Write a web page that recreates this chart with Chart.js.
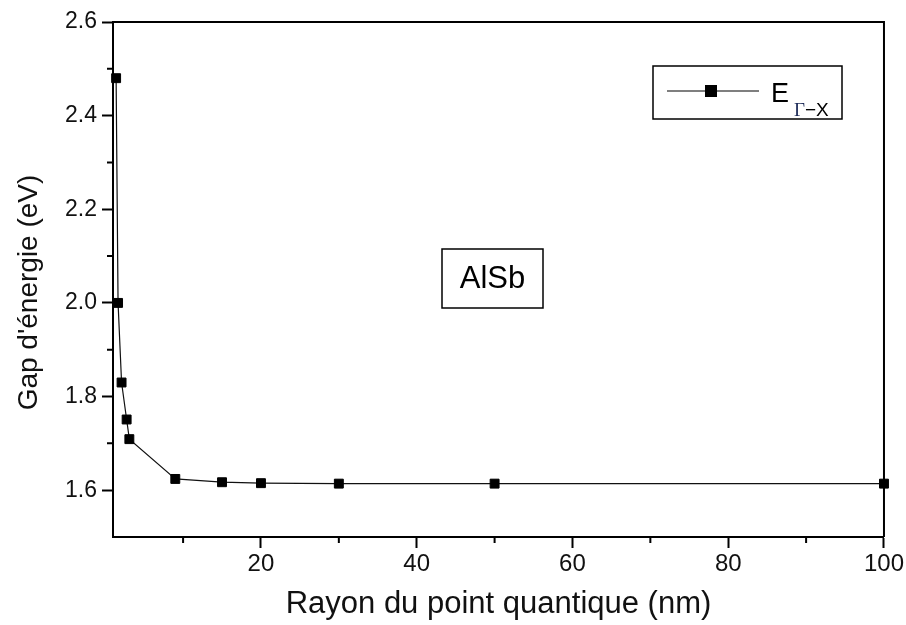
<!DOCTYPE html>
<html>
<head>
<meta charset="utf-8">
<title>AlSb - Gap d'énergie</title>
<script src="https://cdn.jsdelivr.net/npm/chart.js@4.4.1/dist/chart.umd.min.js"></script>
<style>
  html, body { margin: 0; padding: 0; background: #fff; }
  #wrap { width: 906px; height: 625px; position: relative; }
</style>
</head>
<body>
<div id="wrap"><canvas id="gapChart"></canvas></div>
<script>
// rayon du point quantique (nm) et gap Γ-X (eV)
const radius = [1.4, 1.65, 2.1, 2.75, 3.1, 9, 15, 20, 30, 50, 100];
const gap = [2.48, 2.00, 1.83, 1.751, 1.709, 1.624, 1.617, 1.615, 1.614, 1.614, 1.614];

const xTicks = [20, 40, 60, 80, 100];
const xMinor = [10, 30, 50, 70, 90];
const yTicks = [1.6, 1.8, 2.0, 2.2, 2.4, 2.6];
const yMinor = [1.7, 1.9, 2.1, 2.3, 2.5];

const sans = "'Liberation Sans', Arial, sans-serif";

// box frame, minor ticks, y title, legend and material label
const extras = {
  id: 'extras',
  afterDraw(chart) {
    const ctx = chart.ctx;
    const a = chart.chartArea;
    const sx = chart.scales.x, sy = chart.scales.y;
    ctx.save();
    ctx.strokeStyle = '#000';
    ctx.lineWidth = 2;
    ctx.beginPath();
    ctx.moveTo(a.left, a.top);
    ctx.lineTo(a.right, a.top);
    ctx.lineTo(a.right, a.bottom);
    ctx.stroke();

    ctx.beginPath();
    xMinor.forEach(v => {
      const px = sx.getPixelForValue(v);
      ctx.moveTo(px, a.bottom);
      ctx.lineTo(px, a.bottom + 6);
    });
    yMinor.forEach(v => {
      const py = sy.getPixelForValue(v);
      ctx.moveTo(a.left, py);
      ctx.lineTo(a.left - 6, py);
    });
    ctx.stroke();

    // y axis title
    ctx.save();
    ctx.translate(29, (a.top + a.bottom) / 2 + 13);
    ctx.rotate(-Math.PI / 2);
    ctx.fillStyle = '#111';
    ctx.font = '28px ' + sans;
    ctx.textAlign = 'center';
    ctx.textBaseline = 'middle';
    ctx.fillText("Gap d'énergie (eV)", 0, 0);
    ctx.restore();

    // legend
    const lx = a.left + 540, ly = a.top + 44;
    ctx.lineWidth = 1.5;
    ctx.strokeRect(lx, ly, 189, 53);
    ctx.lineWidth = 1.2;
    ctx.beginPath();
    ctx.moveTo(lx + 14, ly + 25);
    ctx.lineTo(lx + 106, ly + 25);
    ctx.stroke();
    ctx.fillStyle = '#000';
    ctx.fillRect(lx + 58 - 6, ly + 25 - 6, 12, 12);
    ctx.textBaseline = 'alphabetic';
    ctx.textAlign = 'left';
    ctx.font = '27px ' + sans;
    ctx.fillText('E', lx + 118, ly + 36);
    ctx.fillStyle = '#1c2a58';
    ctx.font = "19px 'Liberation Serif', serif";
    ctx.fillText('Γ', lx + 141, ly + 50);
    ctx.fillStyle = '#000';
    ctx.font = '19px ' + sans;
    ctx.fillText('−X', lx + 152, ly + 50);

    // material label
    const bx = a.left + 329, by = a.top + 227;
    ctx.lineWidth = 1.5;
    ctx.strokeRect(bx, by, 101, 59);
    ctx.font = '31px ' + sans;
    ctx.textAlign = 'center';
    ctx.textBaseline = 'middle';
    ctx.fillText('AlSb', bx + 50.5, by + 30);
    ctx.restore();
  }
};

new Chart(document.getElementById('gapChart'), {
  type: 'scatter',
  data: {
    datasets: [{
      label: 'E Γ-X',
      data: radius.map((r, i) => ({ x: r, y: gap[i] })),
      showLine: true,
      clip: false,
      borderColor: '#111',
      borderWidth: 1.2,
      backgroundColor: '#000',
      pointStyle: 'rect',
      pointRadius: 6.3,
      pointBorderWidth: 1,
      pointBorderColor: '#000'
    }]
  },
  options: {
    responsive: true,
    maintainAspectRatio: false,
    animation: false,
    layout: { padding: { top: 22, right: 22, left: 0, bottom: 0 } },
    plugins: { legend: { display: false }, tooltip: { enabled: false } },
    scales: {
      x: {
        type: 'linear',
        min: 1,
        max: 100,
        afterBuildTicks: s => { s.ticks = xTicks.map(v => ({ value: v })); },
        afterFit: s => { s.height = 88; },
        grid: { drawOnChartArea: false, tickLength: 11, tickWidth: 2, tickColor: '#000' },
        border: { color: '#000', width: 2 },
        ticks: { color: '#111', font: { family: sans, size: 24 }, padding: 2, maxRotation: 0 },
        title: {
          display: true,
          text: 'Rayon du point quantique (nm)',
          color: '#111',
          font: { family: sans, size: 31 },
          padding: { top: 0, bottom: 2 }
        }
      },
      y: {
        min: 1.5,
        max: 2.6,
        afterBuildTicks: s => { s.ticks = yTicks.map(v => ({ value: v })); },
        afterFit: s => { s.width = 113; },
        grid: { drawOnChartArea: false, tickLength: 11, tickWidth: 2, tickColor: '#000' },
        border: { color: '#000', width: 2 },
        ticks: { color: '#111', font: { family: sans, size: 23 }, padding: 5, callback: v => v.toFixed(1) }
      }
    }
  },
  plugins: [extras]
});
</script>
</body>
</html>
